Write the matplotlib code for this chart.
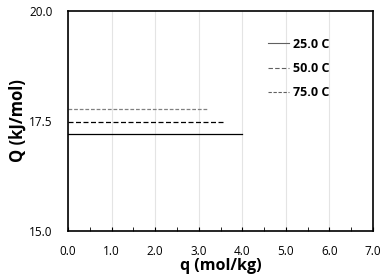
import matplotlib
matplotlib.use("Agg")
import matplotlib.pyplot as plt
from matplotlib.ticker import MultipleLocator

# isosteric heat data
temps = ["25.0 C", "50.0 C", "75.0 C"]
q_end = [4.0, 3.55, 3.2]
Q_val = [17.2, 17.47, 17.77]
styles = ["-", (0, (4, 2)), (0, (3, 1.5))]
colors = ["black", "black", "#808080"]

plt.rcParams["font.family"] = ["Open Sans", "DejaVu Sans"]

fig = plt.figure(figsize=(3.83, 2.77), dpi=100)
ax = fig.add_axes([68 / 383, 46 / 277, 305 / 383, 220 / 277])

for i in range(len(temps)):
    ax.plot([0, q_end[i]], [Q_val[i], Q_val[i]], linestyle=styles[i],
            color=colors[i], lw=0.9, label=temps[i])

ax.set_xlim(0, 7)
ax.set_ylim(15, 20)
ax.xaxis.set_major_locator(MultipleLocator(1))
ax.xaxis.set_minor_locator(MultipleLocator(0.5))
ax.yaxis.set_major_locator(MultipleLocator(2.5))
ax.xaxis.set_major_formatter(lambda v, p: f"{v:.1f}")
ax.yaxis.set_major_formatter(lambda v, p: f"{v:.1f}")
ax.grid(axis="x", color="#e4e4e4", lw=0.8)
ax.set_axisbelow(True)
ax.tick_params(axis="x", which="both", direction="in", length=3, labelsize=8.5, pad=10, color="black")
ax.tick_params(axis="y", length=0, labelsize=8.5, pad=11)
for s in ax.spines.values():
    s.set_linewidth(1.2)

ax.set_xlabel("q (mol/kg)", fontsize=11.5, fontweight="bold", labelpad=0)
ax.set_ylabel("Q (kJ/mol)", fontsize=12, fontweight="bold", labelpad=2)

leg = ax.legend(loc="upper right", bbox_to_anchor=(0.895, 0.93), frameon=False,
                prop={"size": 9, "weight": "bold"}, handlelength=1.7,
                handletextpad=0.35, labelspacing=0.9)
for h in leg.get_lines():
    h.set_color("#606060")
    h.set_linewidth(0.8)

fig.savefig("out.png", dpi=100)
